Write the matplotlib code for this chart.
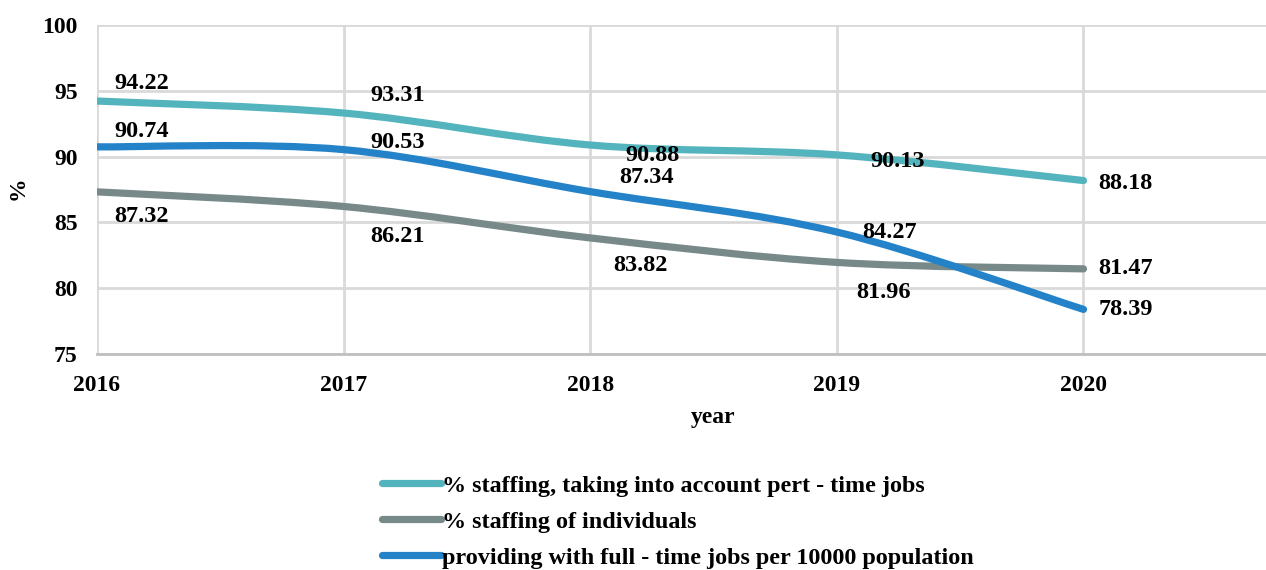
import matplotlib.pyplot as plt
import numpy as np
from matplotlib.path import Path
from matplotlib.patches import PathPatch
from matplotlib.lines import Line2D

plt.rcParams['font.family'] = ['Liberation Serif', 'DejaVu Serif']
plt.rcParams['font.weight'] = 'bold'

years = [2016, 2017, 2018, 2019, 2020]
staffing_part_time = [94.22, 93.31, 90.88, 90.13, 88.18]
staffing_individuals = [87.32, 86.21, 83.82, 81.96, 81.47]
full_time_jobs = [90.74, 90.53, 87.34, 84.27, 78.39]

labels = ["% staffing, taking into account pert - time jobs",
          "% staffing of individuals",
          "providing with full - time jobs per 10000 population"]
colors = ["#54b4be", "#78898a", "#2382c8"]

# label offsets in pixels (dx, dy) relative to each point
offsets = [
    [(45, 18), (54, 18), (62, -10), (61, -7), (42, -3)],
    [(45, -25), (54, -30), (50, -28), (47, -30), (42, 0)],
    [(45, 15), (54, 7), (56, 14), (53, 0), (42, 0)],
]


def smooth_path(x, y):
    # Excel-like smoothed line: cubic bezier through the points
    x = np.asarray(x, float)
    y = np.asarray(y, float)
    px = np.concatenate([[x[0]], x, [x[-1]]])
    py = np.concatenate([[y[0]], y, [y[-1]]])
    verts = [(x[0], y[0])]
    codes = [Path.MOVETO]
    for i in range(len(x) - 1):
        c1 = (px[i + 1] + (px[i + 2] - px[i]) / 6, py[i + 1] + (py[i + 2] - py[i]) / 6)
        c2 = (px[i + 2] - (px[i + 3] - px[i + 1]) / 6, py[i + 2] - (py[i + 3] - py[i + 1]) / 6)
        verts += [c1, c2, (x[i + 1], y[i + 1])]
        codes += [Path.CURVE4] * 3
    return Path(verts, codes)


fig = plt.figure(figsize=(12.66, 5.7), dpi=100)
ax = fig.add_axes([97 / 1266, 216 / 570, 1 - 97 / 1266, 329 / 570])

series = [staffing_part_time, staffing_individuals, full_time_jobs]
handles = []
for vals, col, lab, offs in zip(series, colors, labels, offsets):
    patch = PathPatch(smooth_path(years, vals), facecolor='none', edgecolor=col,
                      lw=5.2, capstyle='round', joinstyle='round', zorder=3)
    ax.add_patch(patch)
    handles.append(Line2D([], [], color=col, lw=5.2, solid_capstyle='round', label=lab))
    for xv, yv, (dx, dy) in zip(years, vals, offs):
        ax.annotate(f"{yv:.2f}", (xv, yv), xytext=(dx, dy), textcoords='offset pixels',
                    ha='center', va='center', fontsize=17.5, fontweight='bold', zorder=4)

ax.set_xlim(2016, 2020.74)
ax.set_ylim(75, 100)
ax.set_xticks(years)
ax.set_yticks([75, 80, 85, 90, 95, 100])
ax.tick_params(axis='both', length=0, labelsize=17)
ax.tick_params(axis='x', pad=15)
ax.tick_params(axis='y', pad=14)
for t in ax.get_xticklabels() + ax.get_yticklabels():
    t.set_fontweight('bold')

ax.grid(True, color='#d9d9d9', lw=2)
ax.set_axisbelow(True)
for s in ['top', 'right', 'left']:
    ax.spines[s].set_visible(False)
ax.spines['bottom'].set_color('#bfbfbf')
ax.spines['bottom'].set_linewidth(2)

fig.text(713 / 1266, 1 - 418 / 570, "year", ha='center', va='center', fontsize=17, fontweight='bold')
fig.text(18 / 1266, 1 - 188 / 570, "%", ha='center', va='center', rotation=90, fontsize=17, fontweight='bold')

fig.legend(handles=handles, loc='upper left', bbox_to_anchor=(370 / 1266, 1 - 463 / 570),
           frameon=False, handlelength=2.45, handletextpad=0.05,
           labelspacing=0.58, borderpad=0, prop={'weight': 'bold', 'size': 17.35})

fig.savefig("out.png", dpi=100)
